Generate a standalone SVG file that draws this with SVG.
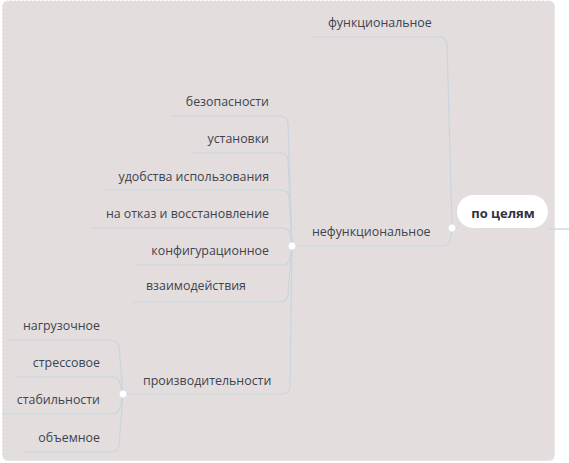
<svg xmlns="http://www.w3.org/2000/svg" width="569" height="463" viewBox="0 0 569 463">
<style>
.t{font-family:"Open Sans","Liberation Sans",sans-serif;font-size:12.4px;fill:#3d4450}
.e{text-anchor:end}
.c{fill:none;stroke:#c8d5dc;stroke-width:1.2}
.dot{fill:#fff;stroke:#d6dde2;stroke-width:0.8}
</style>
<rect x="0" y="0" width="569" height="463" fill="#fff"/>
<rect x="2" y="0.5" width="553" height="460.5" rx="6" fill="#e3dedd" stroke="#fff" stroke-width="1" stroke-dasharray="2,2"/>
<g id="connectors">
<path class="c" d="M548 229 H569"/>
<path class="c" d="M452 228 H458"/>
<path class="c" d="M452 228 L447 44 Q446 37 439 37 H313"/>
<path class="c" d="M452 228 Q451 246 444 246 H292"/>
<path class="c" d="M292 246 L288 123 Q287 116 280 116 H172"/>
<path class="c" d="M292 246 L288 160 Q287 153 280 153 H193"/>
<path class="c" d="M292 246 L289 197 Q288 190 281 190 H105"/>
<path class="c" d="M292 246 L290 234 Q289 228 282 228 H92"/>
<path class="c" d="M292 246 L290 258 Q289 265 282 265 H137"/>
<path class="c" d="M292 246 L288 295 Q287 302 280 302 H133"/>
<path class="c" d="M292 246 L290 387 Q289 394 282 394 H123"/>
<path class="c" d="M123 394 L119 347 Q118 340 111 340 H7"/>
<path class="c" d="M123 394 L120 384 Q119 377 112 377 H17"/>
<path class="c" d="M123 394 L120 407 Q119 414 112 414 H2"/>
<path class="c" d="M123 394 L119 445 Q118 452 111 452 H23"/>
</g>
<g id="root">
<rect x="457" y="195" width="91" height="33" rx="16.5" fill="#fff"/>
<text x="503" y="217.5" text-anchor="middle" class="t" style="font-weight:bold;font-size:13px;fill:#2e3440">по целям</text>
<circle class="dot" cx="452" cy="228" r="4"/>
</g>
<g id="n-func"><text class="t" x="328" y="26.5">функциональное</text></g>
<g id="n-nonfunc"><text class="t" x="312" y="235.5">нефункциональное</text>
<circle class="dot" cx="292" cy="246" r="4"/></g>
<g id="n-sec"><text class="t e" x="269" y="105.5">безопасности</text></g>
<g id="n-inst"><text class="t e" x="269" y="142.5">установки</text></g>
<g id="n-usab"><text class="t e" x="269" y="180.5">удобства использования</text></g>
<g id="n-fail"><text class="t e" x="269" y="217.5">на отказ и восстановление</text></g>
<g id="n-conf"><text class="t e" x="269" y="254.5">конфигурационное</text></g>
<g id="n-inter"><text class="t" x="146" y="289.5">взаимодействия</text></g>
<g id="n-perf"><text class="t" x="143" y="384.5">производительности</text>
<circle class="dot" cx="123" cy="394" r="4"/></g>
<g id="n-load"><text class="t e" x="100" y="329.5">нагрузочное</text></g>
<g id="n-stress"><text class="t e" x="100" y="366.5">стрессовое</text></g>
<g id="n-stab"><text class="t e" x="100" y="403.5">стабильности</text></g>
<g id="n-vol"><text class="t e" x="100" y="441.5">объемное</text></g>
</svg>
